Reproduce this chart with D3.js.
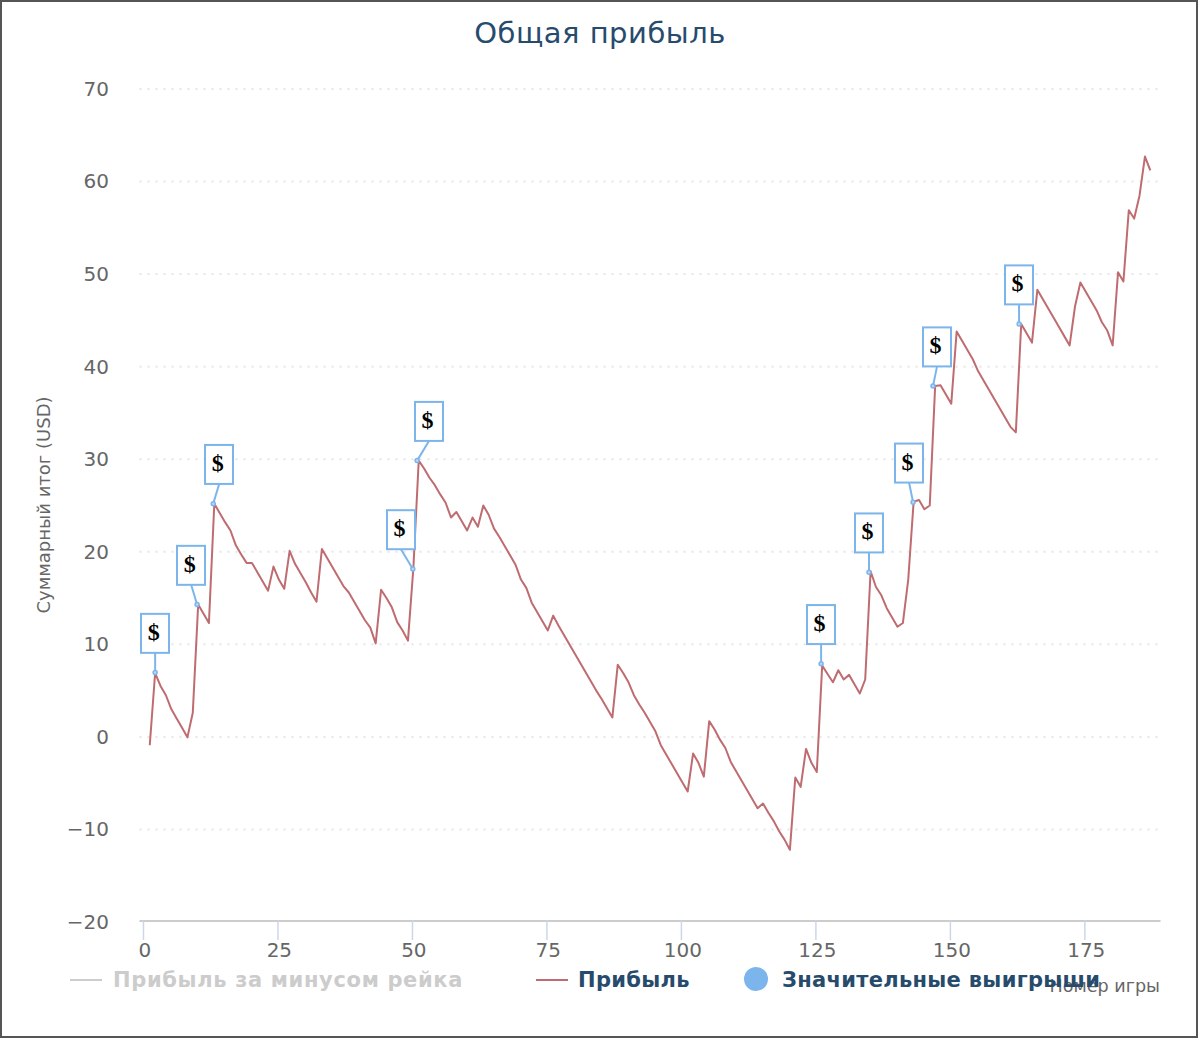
<!DOCTYPE html>
<html>
<head>
<meta charset="utf-8">
<script src="https://d3js.org/d3.v7.min.js"></script>
<style>
    html, body { margin: 0; padding: 0; background: #fff; }
    svg { display: block; }
    text { font-family: "DejaVu Sans", sans-serif; }
</style>
</head>
<body>
<svg width="1200" height="1040"></svg>
<script>
// Cumulative profit after each game, games 1 to 187
const profit = [
    -0.9, 6.9, 5.5, 4.5, 3.0, 2.0, 1.0, -0.05, 2.6, 14.3,
    13.3, 12.3, 25.2, 24.2, 23.2, 22.3, 20.7, 19.7, 18.8, 18.8,
    17.8, 16.8, 15.8, 18.4, 17.0, 16.0, 20.1, 18.7, 17.7, 16.7,
    15.6, 14.6, 20.3, 19.3, 18.3, 17.3, 16.3, 15.6, 14.6, 13.6,
    12.6, 11.8, 10.1, 15.9, 15.0, 14.0, 12.4, 11.5, 10.4, 18.2,
    29.85, 29.0, 28.0, 27.2, 26.2, 25.3, 23.7, 24.3, 23.3, 22.3,
    23.7, 22.7, 25.0, 24.0, 22.5, 21.6, 20.6, 19.6, 18.6, 17.0,
    16.1, 14.5, 13.5, 12.5, 11.5, 13.1, 12.0, 11.0, 10.0, 9.0,
    8.0, 7.0, 6.0, 5.0, 4.1, 3.1, 2.1, 7.8, 6.9, 5.9,
    4.5, 3.5, 2.6, 1.6, 0.6, -0.9, -1.9, -2.9, -3.9, -4.9,
    -5.9, -1.8, -2.8, -4.3, 1.7, 0.8, -0.3, -1.2, -2.7, -3.7,
    -4.7, -5.7, -6.7, -7.7, -7.2, -8.2, -9.1, -10.2, -11.1, -12.2,
    -4.4, -5.4, -1.3, -2.8, -3.8, 7.7, 6.8, 5.9, 7.2, 6.2,
    6.7, 5.7, 4.7, 6.2, 17.9, 16.2, 15.3, 13.9, 12.9, 11.9,
    12.3, 17.0, 25.4, 25.6, 24.6, 25.0, 37.9, 38.0, 37.0, 36.0,
    43.8, 42.8, 41.8, 40.8, 39.5, 38.5, 37.5, 36.5, 35.5, 34.5,
    33.5, 32.9, 44.6, 43.6, 42.6, 48.3, 47.3, 46.3, 45.3, 44.3,
    43.3, 42.3, 46.5, 49.1, 48.1, 47.1, 46.1, 44.8, 43.9, 42.3,
    50.2, 49.2, 56.9, 56.0, 58.5, 62.7, 61.2
];

// Big wins shown as flags
const flagGames = [2, 9.8, 12.8, 49.9, 50.7, 125.8, 134.7, 142.9, 146.6, 162.6];
const flagValues = [6.95, 14.3, 25.2, 18.15, 29.85, 7.9, 17.8, 25.35, 37.9, 44.6];
const flagLabel = "$";

const xTicks = [0, 25, 50, 75, 100, 125, 150, 175];
const yTicks = [-20, -10, 0, 10, 20, 30, 40, 50, 60, 70];

const titleText = "Общая прибыль";
const xTitle = "Номер игры";
const yTitle = "Суммарный итог (USD)";
const legendNames = ["Прибыль за минусом рейка", "Прибыль", "Значительные выигрыши"];

const lineColor = "#bf6c70";
const flagColor = "#7cb5ec";
const textColor = "#666666";
const legendColor = "#274b6d";
const hiddenColor = "#cccccc";

const svg = d3.select("svg");

// Outer frame
svg.append("rect")
    .attr("x", 1).attr("y", 1)
    .attr("width", 1196).attr("height", 1036)
    .attr("fill", "#fff")
    .attr("stroke", "#555555")
    .attr("stroke-width", 2);

const x = d3.scaleLinear().domain([-1, 188.8]).range([139, 1160]);
const y = d3.scaleLinear().domain([-20, 70]).range([922, 89]);

// Title
svg.append("text")
    .attr("x", 600).attr("y", 43)
    .attr("text-anchor", "middle")
    .attr("fill", legendColor)
    .style("font-size", "29px")
    .style("letter-spacing", "0.5px")
    .text(titleText);

// Y axis: dotted grid lines and labels, no axis line
const yAxis = svg.append("g")
    .attr("transform", "translate(139,0)")
    .call(d3.axisLeft(y).tickValues(yTicks).tickSize(0).tickPadding(30)
        .tickFormat(d => String(d).replace("-", "−")));
yAxis.select(".domain").remove();
yAxis.selectAll("text")
    .attr("fill", textColor)
    .style("font-size", "20px");
yAxis.selectAll(".tick").filter(d => d !== -20).append("line")
    .attr("x1", 0.5).attr("x2", 1021)
    .attr("y1", -0.5).attr("y2", -0.5)
    .attr("stroke", "#e6e6e6")
    .attr("stroke-width", 2)
    .attr("stroke-dasharray", "2 6");

svg.append("text")
    .attr("transform", "translate(50,505) rotate(-90)")
    .attr("text-anchor", "middle")
    .attr("fill", textColor)
    .style("font-size", "18px")
    .text(yTitle);

// X axis
const xAxis = svg.append("g")
    .attr("transform", "translate(0,920.5)")
    .call(d3.axisBottom(x).tickValues(xTicks).tickSize(0).tickPadding(22));
xAxis.select(".domain")
    .attr("stroke", "#cccccc")
    .attr("stroke-width", 2);
xAxis.selectAll("text")
    .attr("fill", textColor)
    .style("font-size", "20px");
xAxis.selectAll(".tick").append("line")
    .attr("x1", -1.4).attr("x2", -1.4)
    .attr("y1", 0).attr("y2", 19.5)
    .attr("stroke", "#ccd6eb")
    .attr("stroke-width", 1.5);

svg.append("text")
    .attr("x", 1160).attr("y", 992)
    .attr("text-anchor", "end")
    .attr("fill", textColor)
    .style("font-size", "17.6px")
    .text(xTitle);

// Profit line
const line = d3.line()
    .x((d, i) => x(i + 1))
    .y(d => y(d));

svg.append("path")
    .datum(profit)
    .attr("d", line)
    .attr("fill", "none")
    .attr("stroke", lineColor)
    .attr("stroke-width", 2)
    .attr("stroke-linejoin", "round");

// Flags: neighbours closer than a box width are pushed apart around their midpoint
const flagW = 28, flagH = 39, flagGap = 19.7;
const flags = flagGames.map((g, i) => ({ px: x(g), py: y(flagValues[i]), cx: x(g) }));
flags.forEach((f, i) => {
    const next = flags[i + 1];
    if (next && next.px - f.px < flagW) {
        const mid = (f.px + next.px) / 2;
        f.cx = mid - flagW / 2;
        next.cx = mid + flagW / 2;
    }
});

const flagGroup = svg.append("g");
flagGroup.selectAll("line")
    .data(flags)
    .enter()
    .append("line")
    .attr("x1", d => d.px)
    .attr("y1", d => d.py)
    .attr("x2", d => d.cx)
    .attr("y2", d => d.py - flagGap)
    .attr("stroke", flagColor)
    .attr("stroke-width", 2);
flagGroup.selectAll("circle")
    .data(flags)
    .enter()
    .append("circle")
    .attr("cx", d => d.px)
    .attr("cy", d => d.py)
    .attr("r", 2)
    .attr("fill", "#b9d6f3")
    .attr("stroke", flagColor)
    .attr("stroke-width", 1.5);
flagGroup.selectAll("rect")
    .data(flags)
    .enter()
    .append("rect")
    .attr("x", d => Math.round(d.cx - flagW / 2))
    .attr("y", d => d.py - flagGap - flagH)
    .attr("width", flagW)
    .attr("height", flagH)
    .attr("fill", "#fff")
    .attr("stroke", flagColor)
    .attr("stroke-width", 2);
flagGroup.selectAll("text")
    .data(flags)
    .enter()
    .append("text")
    .attr("x", d => d.cx - 1.5)
    .attr("y", d => d.py - flagGap - flagH + 26)
    .attr("text-anchor", "middle")
    .attr("fill", "#000")
    .style("font-family", '"Liberation Serif", serif')
    .style("font-size", "24px")
    .style("font-weight", "bold")
    .text(flagLabel);

// Legend
const legendY = 980;
svg.append("line")
    .attr("x1", 70).attr("x2", 102)
    .attr("y1", legendY).attr("y2", legendY)
    .attr("stroke", hiddenColor).attr("stroke-width", 2);
svg.append("line")
    .attr("x1", 536).attr("x2", 568)
    .attr("y1", legendY).attr("y2", legendY)
    .attr("stroke", lineColor).attr("stroke-width", 2);
svg.append("circle")
    .attr("cx", 756).attr("cy", legendY - 1)
    .attr("r", 12)
    .attr("fill", flagColor);

const legendX = [113, 578, 782];
const legendFill = [hiddenColor, legendColor, legendColor];
const legendSpacing = [0.65, 0.3, 0.3];
svg.selectAll("text.legend")
    .data(legendNames)
    .enter()
    .append("text")
    .attr("class", "legend")
    .attr("x", (d, i) => legendX[i])
    .attr("y", 987)
    .attr("fill", (d, i) => legendFill[i])
    .style("font-size", "21px")
    .style("font-weight", "bold")
    .style("letter-spacing", (d, i) => legendSpacing[i] + "px")
    .text(d => d);
</script>
</body>
</html>
